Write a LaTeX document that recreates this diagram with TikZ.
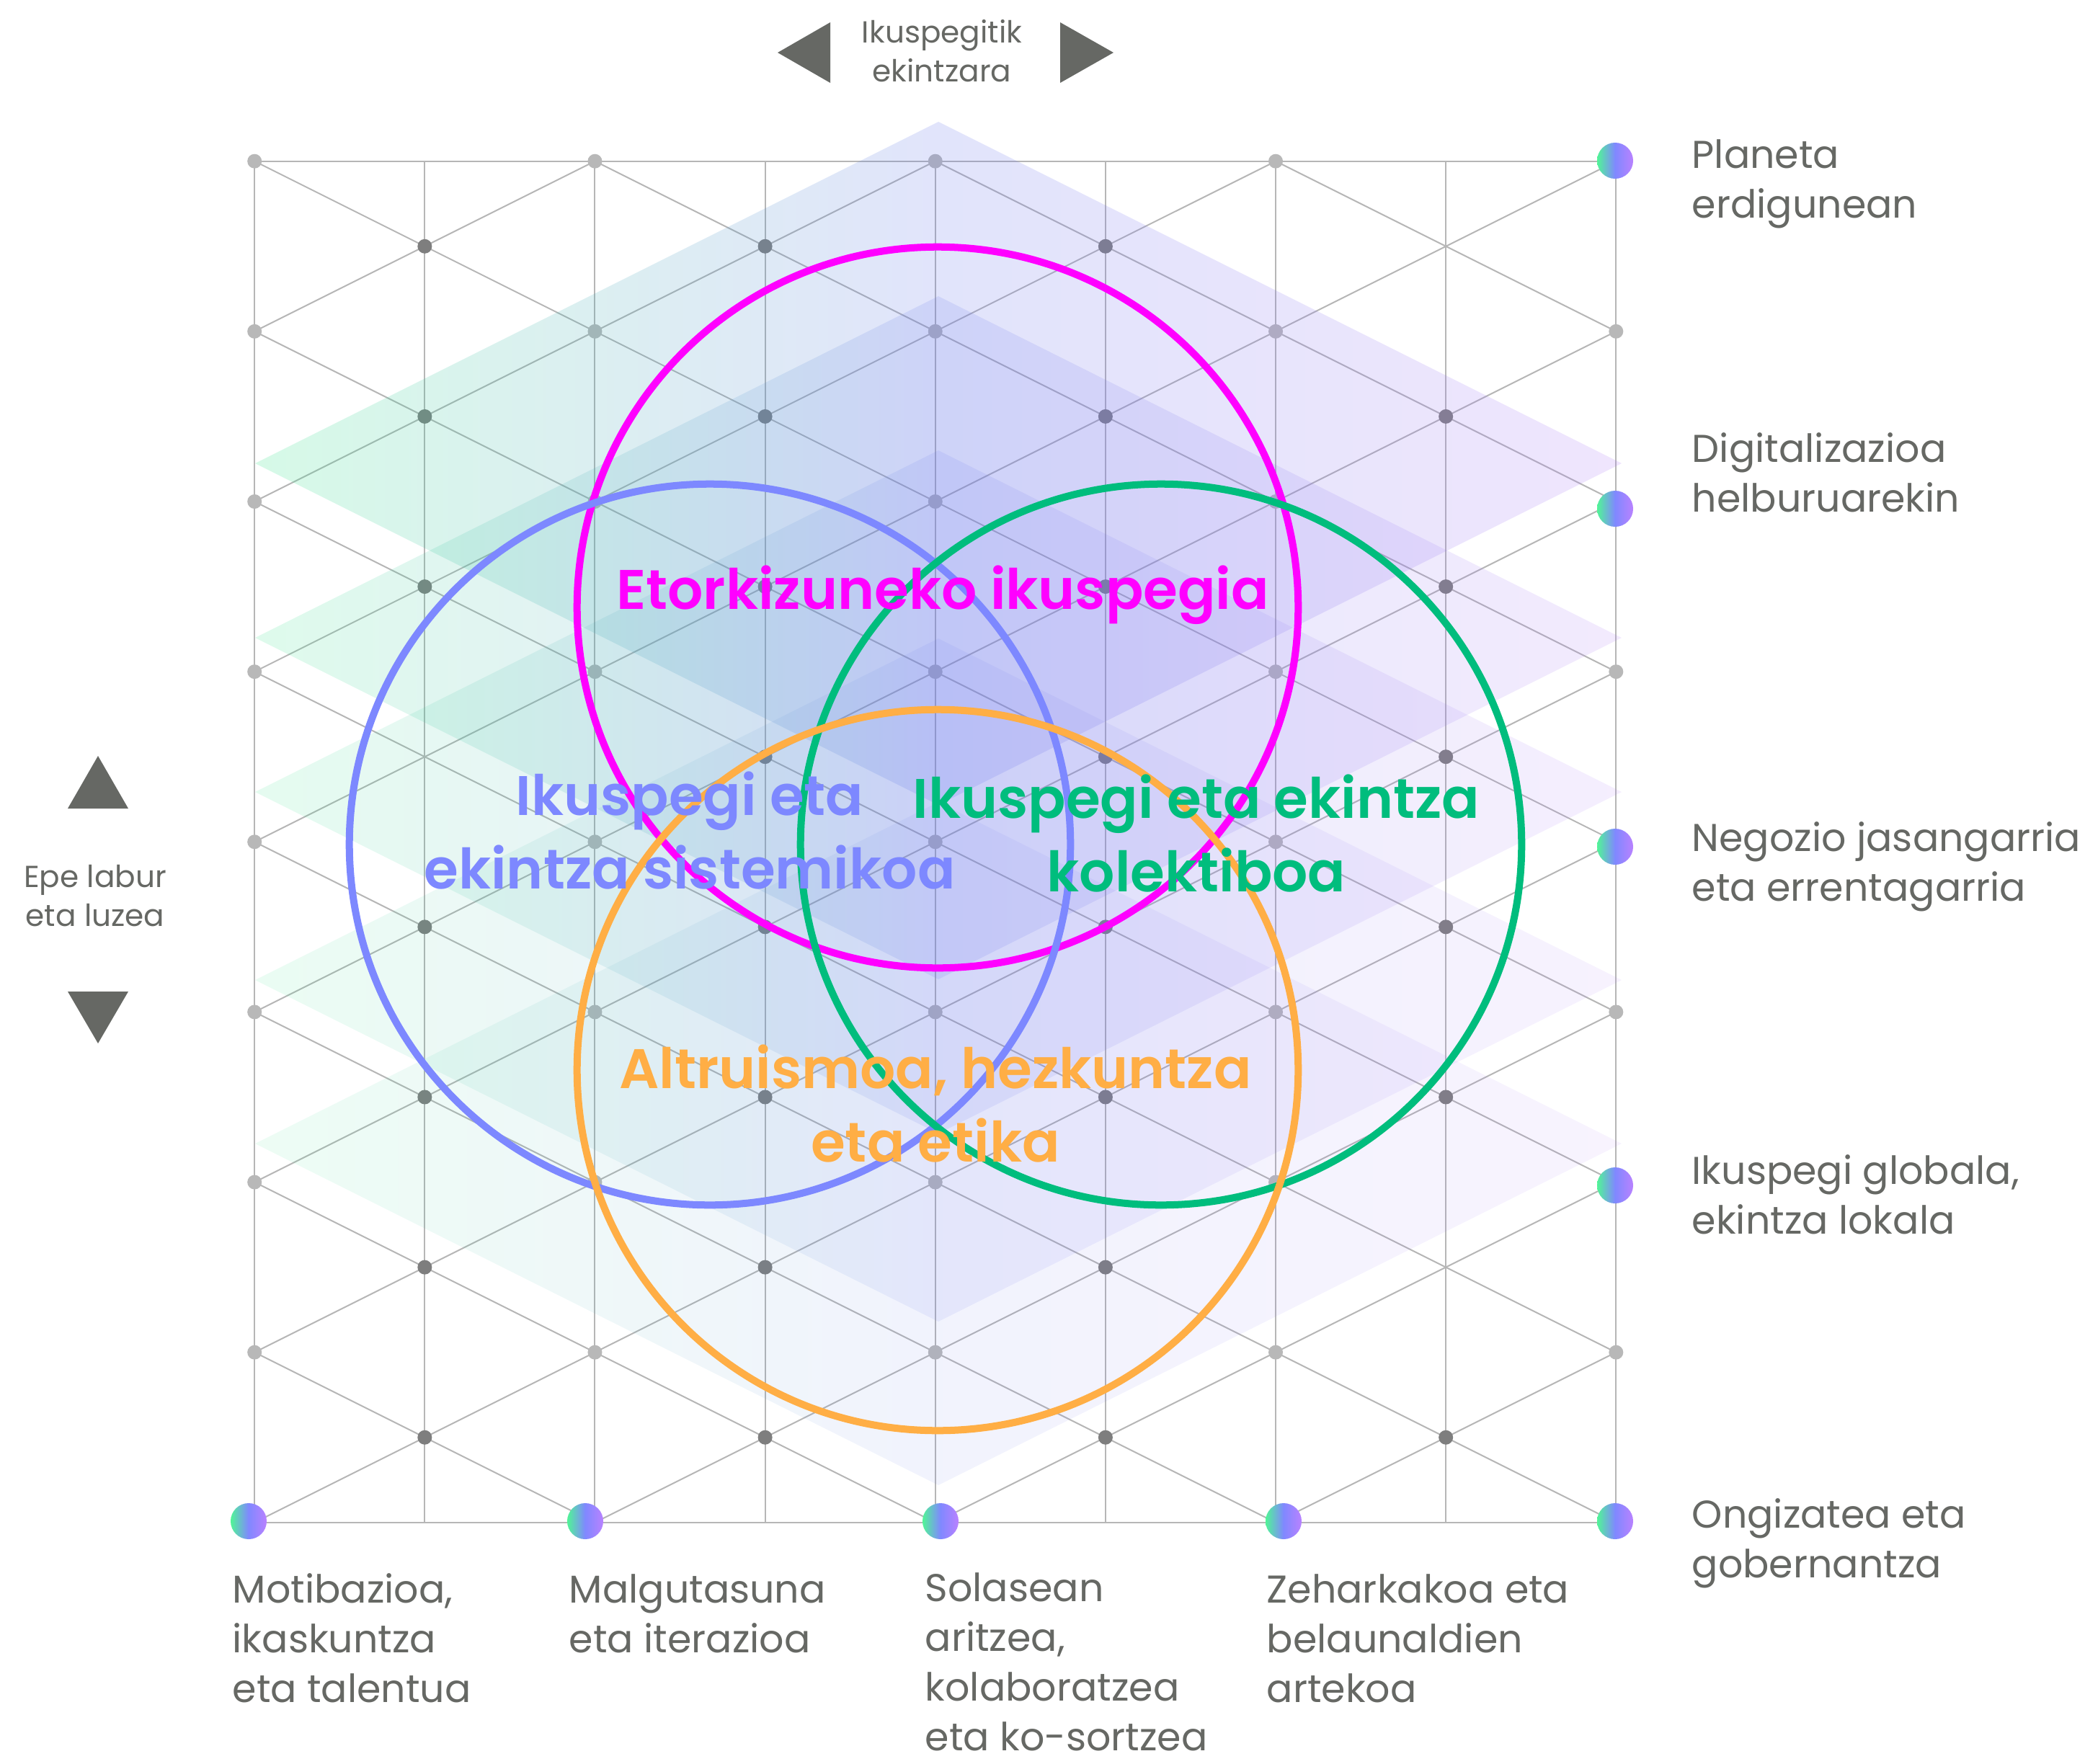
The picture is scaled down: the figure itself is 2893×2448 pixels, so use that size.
\documentclass[tikz,border=0pt]{standalone}
\usepackage{fontspec}
\setmainfont{Poppins}
\newfontfamily\labelfont{Poppins}[UprightFont={* SemiBold}]
\usetikzlibrary{positioning}

\definecolor{textgray}{RGB}{102,104,100}
\definecolor{gridgray}{RGB}{182,182,182}
\definecolor{dotlight}{RGB}{184,184,184}
\definecolor{dotdark}{RGB}{126,126,126}
\definecolor{mintgreen}{RGB}{50,228,135}
\definecolor{midblue}{RGB}{105,120,235}
\definecolor{lilac}{RGB}{175,125,245}
\definecolor{ringmagenta}{RGB}{255,0,255}
\definecolor{ringblue}{RGB}{125,136,255}
\definecolor{ringgreen}{RGB}{0,189,125}
\definecolor{ringorange}{RGB}{255,174,69}
\definecolor{dotgreen}{RGB}{80,245,150}
\definecolor{dotblue}{RGB}{128,136,255}
\definecolor{dotpurple}{RGB}{185,130,255}

\tikzset{
  gridline/.style={draw=gridgray, line width=0.02cm},
  ring/.style={circle, draw, line width=0.1cm, minimum size=10cm, inner sep=0pt},
  gradientdot/.style={circle, minimum size=0.5cm, inner sep=0pt,
    left color=dotgreen, right color=dotpurple, middle color=dotblue},
  sidetext/.style={text=textgray, inner sep=0pt, align=left, anchor=base west,
    font=\fontsize{15.3}{19.6}\selectfont},
  smalltext/.style={text=textgray, inner sep=0pt, align=center, anchor=base,
    font=\fontsize{12}{15.2}\selectfont},
  ringtext/.style={inner sep=0pt, align=center, anchor=base,
    font=\labelfont\fontsize{22}{29}\selectfont},
}

\begin{document}
\begin{tikzpicture}[x=0.01cm, y=-0.01cm]
    \useasboundingbox (0,0) rectangle (2893,2448);

    % Lattice: verticals, frame and diagonals
    \begin{scope}[xshift=3.53cm, yshift=-2.236cm, x=2.36cm, y=-1.18cm]
        \foreach \u in {0,...,8}
            \draw[gridline] (\u,0) -- (\u,16);
        \draw[gridline] (0,0) -- (8,0);
        \draw[gridline] (0,16) -- (8,16);
        \begin{scope}
            \clip (0,0) rectangle (8,16);
            \foreach \c in {-8,-6,...,16}
                \draw[gridline] (-2,\c-2) -- (10,\c+10);
            \foreach \c in {0,2,...,24}
                \draw[gridline] (-2,\c+2) -- (10,\c-10);
        \end{scope}

        % Light dots on even rows
        \foreach \v in {0,2,...,14}
            \foreach \u in {0,2,4,6}
                \fill[dotlight] (\u,\v) circle[radius=0.1cm];
        \foreach \v in {2,6,10,14}
            \fill[dotlight] (8,\v) circle[radius=0.1cm];

        % Dark dots on odd rows
        \foreach \u/\rows in {1/{1,3,5,9,11,13,15}, 3/{1,3,...,15},
                              5/{1,3,...,15}, 7/{3,5,7,9,11,15}}
            \foreach \v in \rows
                \fill[dotdark] (\u,\v) circle[radius=0.1cm];
    \end{scope}

    % Stacked translucent diamonds
    \foreach \a/\op in {169/0.2, 411/0.16, 625/0.13, 886/0.1, 1113/0.09}
        \shade[left color=mintgreen, right color=lilac, middle color=midblue, opacity=\op]
            (1302,\a) -- (2250,\a+474) -- (1302,\a+948) -- (354,\a+474) -- cycle;

    % Four rings
    \node[ring, draw=ringmagenta] (future) at (1301,843) {};
    \node[ring, draw=ringblue] (systemic) at (985,1172) {};
    \node[ring, draw=ringgreen] (collective) at (1611,1172) {};
    \node[ring, draw=ringorange] (ethics) at (1301,1485) {};

    % (base of a multi-line node = its last line)
    \node[ringtext, text=ringmagenta] (futuretext) at (1308,845) {Etorkizuneko ikuspegia};
    \node[ringtext, text=ringblue] (systemictext) at (957,1233) {Ikuspegi eta\\ekintza sistemikoa};
    \node[ringtext, text=ringgreen] (collectivetext) at (1660,1237) {Ikuspegi eta ekintza\\kolektiboa};
    \node[ringtext, text=ringorange] (ethicstext) at (1298,1612) {Altruismoa, hezkuntza\\eta etika};

    % Axis hints
    \node[smalltext] (horizon) at (1307,113) {Ikuspegitik\\ekintzara};
    \fill[textgray] (1079,73) -- (1152,31) -- (1152,115) -- cycle;
    \fill[textgray] (1545,73) -- (1471,31) -- (1471,115) -- cycle;
    \node[smalltext] (term) at (132,1285) {Epe labur\\eta luzea};
    \fill[textgray] (136,1049) -- (178,1122) -- (94,1122) -- cycle;
    \fill[textgray] (136,1448) -- (178,1376) -- (94,1376) -- cycle;

    % Gradient dots on the right edge and bottom row
    \node[gradientdot] (r1) at (2241,223) {};
    \node[gradientdot] (r2) at (2241,706) {};
    \node[gradientdot] (r3) at (2241,1175) {};
    \node[gradientdot] (r4) at (2241,1645) {};
    \node[gradientdot] (r5) at (2241,2111) {};
    \node[gradientdot] (b1) at (345,2111) {};
    \node[gradientdot] (b2) at (812,2111) {};
    \node[gradientdot] (b3) at (1305,2111) {};
    \node[gradientdot] (b4) at (1781,2111) {};

    % Right-hand labels
    \node[sidetext] (planet) at (2347,302) {Planeta\\erdigunean};
    \node[sidetext] (digital) at (2347,710) {Digitalizazioa\\helburuarekin};
    \node[sidetext] (business) at (2347,1250) {Negozio jasangarria\\eta errentagarria};
    \node[sidetext] (global) at (2347,1712) {Ikuspegi globala,\\ekintza lokala};
    \node[sidetext] (wellbeing) at (2347,2189) {Ongizatea eta\\gobernantza};

    % Bottom labels
    \node[sidetext] (motivation) at (322,2362) {Motibazioa,\\ikaskuntza\\eta talentua};
    \node[sidetext] (flexibility) at (789,2293) {Malgutasuna\\eta iterazioa};
    \node[sidetext] (dialogue) at (1283,2429) {Solasean\\aritzea,\\kolaboratzea\\eta ko-sortzea};
    \node[sidetext] (transversal) at (1757,2362) {Zeharkakoa eta\\belaunaldien\\artekoa};
\end{tikzpicture}
\end{document}
